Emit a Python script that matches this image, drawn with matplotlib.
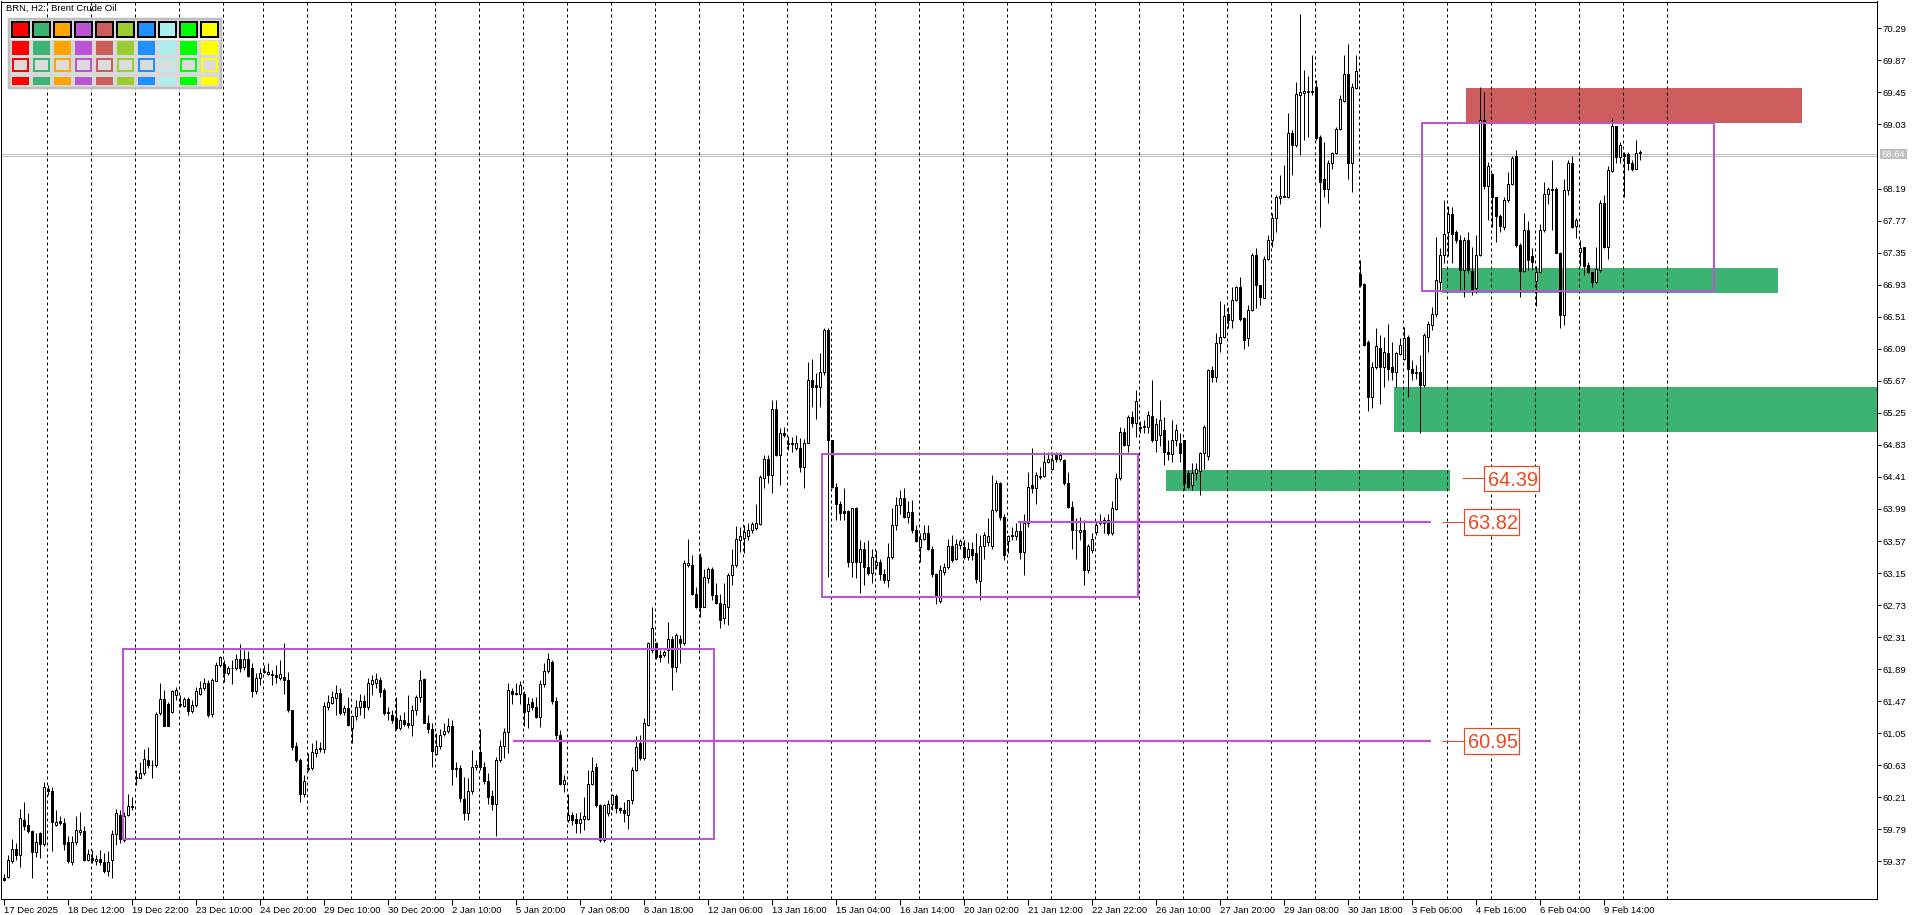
import matplotlib
matplotlib.use("Agg")
import matplotlib.pyplot as plt
from matplotlib.patches import Rectangle
import matplotlib.transforms as mtransforms
import numpy as np

plt.rcParams['font.family'] = ['Liberation Sans', 'DejaVu Sans']

# ---------------- data (BRN, H2) ----------------
opens = [
59.16, 59.17, 59.37, 59.54, 59.46, 59.92, 59.85, 59.77, 59.49, 59.75,
59.60, 60.32, 60.30, 59.85, 59.90, 59.88, 59.63, 59.36, 59.63, 59.76,
59.77, 59.39, 59.41, 59.37, 59.40, 59.36, 59.25, 59.39, 59.73, 59.98,
59.65, 59.98, 60.09, 60.46, 60.47, 60.53, 60.70, 60.64, 60.64, 61.31,
61.50, 61.44, 61.33, 61.55, 61.44, 61.41, 61.50, 61.34, 61.42, 61.57,
61.64, 61.71, 61.30, 61.74, 61.95, 61.96, 61.84, 61.91, 61.91, 62.03,
61.92, 62.03, 61.90, 61.60, 61.78, 61.87, 61.83, 61.83, 61.81, 61.77,
61.79, 61.75, 61.36, 60.88, 60.70, 60.26, 60.58, 60.59, 60.79, 60.84,
60.85, 61.40, 61.45, 61.51, 61.58, 61.33, 61.38, 61.12, 61.28, 61.40,
61.47, 61.40, 61.70, 61.71, 61.75, 61.62, 61.31, 61.29, 61.25, 61.12,
61.22, 61.18, 61.16, 61.36, 61.53, 61.76, 61.19, 61.11, 60.78, 60.88,
61.04, 61.08, 61.14, 60.58, 60.60, 60.19, 60.01, 60.29, 60.61, 60.81,
60.61, 60.42, 60.23, 60.13, 60.70, 60.88, 61.07, 61.60, 61.57, 61.57,
61.57, 61.34, 61.46, 61.40, 61.26, 61.70, 61.87, 61.98, 61.47, 61.03,
60.39, 59.91, 59.98, 59.93, 59.87, 59.93, 59.93, 60.39, 60.61, 60.11,
59.65, 60.00, 60.13, 60.23, 60.07, 60.05, 59.98, 60.18, 60.57, 60.92,
60.72, 61.16, 62.14, 62.23, 62.08, 62.08, 62.14, 62.28, 61.92, 62.29,
62.24, 63.26, 63.26, 62.88, 63.36, 62.71, 63.09, 63.21, 62.86, 62.76,
62.56, 62.70, 63.12, 63.26, 63.58, 63.61, 63.63, 63.71, 63.74, 63.79,
64.39, 64.65, 64.44, 65.30, 64.70, 64.98, 64.84, 64.86, 64.79, 64.79,
64.54, 64.86, 65.68, 65.62, 65.59, 65.78, 66.34, 64.89, 64.28, 64.06,
63.96, 63.96, 63.29, 64.00, 63.30, 63.46, 63.23, 63.15, 63.26, 63.29,
63.14, 63.06, 63.36, 63.78, 64.04, 64.14, 63.89, 63.95, 63.72, 63.49,
63.60, 63.67, 63.47, 63.14, 62.78, 63.17, 63.23, 63.51, 63.34, 63.52,
63.49, 63.36, 63.47, 63.41, 63.05, 63.50, 63.56, 63.50, 63.98, 64.33,
63.89, 63.57, 63.63, 63.64, 63.70, 63.43, 63.80, 64.30, 64.26, 64.41,
64.42, 64.61, 64.51, 64.70, 64.64, 64.63, 64.33, 64.02, 63.72, 63.69,
63.71, 63.19, 63.45, 63.69, 63.81, 63.80, 63.85, 63.67, 63.99, 64.39,
65.00, 64.83, 65.20, 65.12, 65.05, 65.06, 65.07, 65.21, 64.90, 64.96,
65.03, 64.74, 64.71, 64.90, 64.85, 64.89, 64.46, 64.30, 64.46, 64.49,
64.72, 64.68, 65.81, 65.72, 66.17, 66.24, 66.55, 66.47, 66.73, 66.90,
66.49, 66.23, 66.60, 67.32, 66.93, 66.76, 67.26, 67.52, 67.81, 68.06,
68.08, 68.08, 68.92, 68.76, 69.42, 69.44, 69.46, 69.47, 69.52, 68.87,
68.31, 68.19, 68.53, 68.66, 68.97, 69.34, 69.69, 68.53, 69.51, 67.07,
66.94, 66.18, 65.46, 65.85, 66.10, 65.85, 66.04, 65.85, 65.79, 66.02,
65.96, 66.24, 65.83, 65.77, 65.79, 65.61, 66.25, 66.40, 66.55, 66.97,
67.32, 67.62, 67.86, 67.62, 67.52, 67.12, 67.52, 67.11, 66.88, 67.32,
69.09, 68.22, 68.38, 68.08, 67.83, 67.69, 68.04, 68.25, 68.61, 67.45,
67.11, 67.64, 67.30, 66.98, 67.10, 67.65, 68.12, 68.18, 68.18, 67.35,
66.53, 68.17, 68.53, 67.70, 67.36, 67.42, 67.19, 67.09, 66.96, 67.12,
68.00, 67.42, 68.42, 69.01, 68.60, 68.64, 68.64, 68.53, 68.45, 68.67,
]
highs = [
59.20, 59.46, 59.66, 59.61, 60.06, 60.15, 60.00, 59.78, 59.74, 59.76,
60.41, 60.37, 60.35, 60.05, 59.96, 59.94, 59.70, 59.70, 59.96, 60.02,
59.83, 59.54, 59.52, 59.46, 59.52, 59.48, 59.51, 59.78, 60.06, 60.05,
60.02, 60.25, 60.22, 60.57, 60.67, 60.85, 60.87, 60.70, 61.33, 61.71,
61.62, 61.46, 61.62, 61.66, 61.55, 61.53, 61.53, 61.49, 61.66, 61.73,
61.77, 61.75, 61.77, 61.99, 62.06, 62.01, 61.93, 62.01, 62.09, 62.22,
62.14, 62.13, 61.97, 61.84, 61.90, 61.95, 61.97, 61.88, 61.95, 62.01,
62.23, 61.86, 61.36, 60.94, 60.72, 60.50, 60.79, 60.92, 60.96, 60.94,
61.46, 61.55, 61.60, 61.68, 61.65, 61.42, 61.53, 61.29, 61.49, 61.57,
61.55, 61.77, 61.81, 61.84, 61.79, 61.64, 61.40, 61.36, 61.53, 61.29,
61.33, 61.55, 61.42, 61.55, 61.88, 61.77, 61.29, 61.18, 61.05, 61.11,
61.18, 61.25, 61.22, 60.68, 60.64, 60.48, 60.46, 60.83, 60.70, 61.10,
60.68, 60.53, 60.31, 60.74, 60.96, 61.12, 61.71, 61.64, 61.71, 61.73,
61.60, 61.53, 61.51, 61.53, 61.75, 61.97, 62.10, 62.01, 61.53, 61.09,
60.50, 60.26, 60.02, 60.00, 60.02, 60.22, 60.57, 60.74, 60.66, 60.13,
60.13, 60.18, 60.26, 60.26, 60.09, 60.15, 60.18, 60.61, 61.01, 61.03,
61.25, 62.25, 62.71, 62.25, 62.14, 62.14, 62.51, 62.32, 62.36, 62.34,
63.32, 63.60, 63.39, 62.97, 63.41, 63.21, 63.23, 63.23, 63.02, 62.88,
63.02, 63.15, 63.47, 63.77, 63.76, 63.78, 63.80, 63.82, 64.06, 64.44,
64.70, 64.70, 65.42, 65.42, 65.05, 65.07, 64.95, 64.94, 64.96, 64.92,
64.91, 65.92, 65.96, 65.77, 66.03, 66.36, 66.36, 64.90, 64.33, 64.09,
64.26, 63.98, 64.00, 64.02, 63.58, 63.56, 63.59, 63.47, 63.45, 63.34,
63.21, 63.54, 64.00, 64.15, 64.24, 64.26, 64.09, 64.11, 63.78, 63.67,
63.78, 63.78, 63.50, 63.15, 63.26, 63.28, 63.60, 63.65, 63.60, 63.60,
63.58, 63.56, 63.56, 63.67, 63.65, 63.69, 63.87, 64.44, 64.37, 64.35,
63.93, 63.65, 63.76, 63.80, 63.82, 63.93, 64.48, 64.79, 64.48, 64.54,
64.74, 64.74, 64.74, 64.74, 64.74, 64.64, 64.48, 64.09, 63.87, 63.89,
63.85, 63.53, 63.67, 63.82, 63.93, 63.89, 63.93, 64.09, 64.46, 65.07,
65.05, 65.22, 65.27, 65.55, 65.14, 65.16, 65.27, 65.68, 65.18, 65.42,
65.20, 64.89, 65.16, 65.11, 64.98, 64.89, 64.50, 64.59, 64.59, 64.74,
65.09, 65.83, 65.86, 66.29, 66.71, 66.68, 66.64, 66.90, 66.91, 67.03,
66.51, 66.66, 67.34, 67.41, 66.93, 67.30, 67.58, 67.87, 68.10, 68.37,
68.50, 69.18, 68.96, 69.59, 70.48, 69.74, 69.67, 69.94, 69.61, 68.89,
68.80, 68.57, 68.67, 68.99, 69.42, 69.94, 70.09, 69.57, 69.94, 67.25,
66.95, 66.20, 65.92, 66.36, 66.27, 66.25, 66.42, 66.18, 66.05, 66.23,
66.38, 66.27, 65.94, 65.88, 66.01, 66.29, 66.45, 66.64, 67.56, 67.41,
68.04, 67.96, 67.95, 67.65, 67.58, 67.56, 67.62, 67.43, 67.58, 69.52,
69.46, 68.54, 68.39, 68.08, 67.86, 68.08, 68.41, 68.61, 68.69, 67.47,
67.87, 67.76, 67.41, 67.17, 67.73, 68.28, 68.21, 68.56, 68.21, 67.36,
68.32, 68.56, 68.61, 67.80, 67.52, 67.43, 67.23, 67.10, 67.43, 68.04,
68.10, 68.48, 69.11, 69.01, 68.80, 68.67, 68.67, 68.56, 68.83, 68.69,
]
lows = [
59.11, 59.15, 59.35, 59.39, 59.30, 59.78, 59.74, 59.16, 59.43, 59.41,
59.57, 60.24, 59.51, 59.83, 59.85, 59.52, 59.35, 59.33, 59.59, 59.72,
59.37, 59.37, 59.35, 59.32, 59.32, 59.22, 59.18, 59.15, 59.59, 59.61,
59.62, 59.96, 60.04, 60.37, 60.46, 60.50, 60.60, 60.46, 60.61, 61.29,
61.14, 61.14, 61.31, 61.49, 61.40, 61.39, 61.29, 61.31, 61.40, 61.55,
61.62, 61.26, 61.27, 61.73, 61.92, 61.72, 61.81, 61.69, 61.88, 61.86,
61.88, 61.79, 61.53, 61.57, 61.68, 61.84, 61.81, 61.68, 61.71, 61.75,
61.57, 61.33, 60.83, 60.68, 60.15, 60.22, 60.55, 60.57, 60.74, 60.81,
60.79, 61.36, 61.43, 61.29, 61.29, 61.29, 61.14, 60.92, 61.22, 61.29,
61.25, 61.36, 61.55, 61.64, 61.53, 61.29, 61.22, 61.18, 61.09, 61.09,
61.14, 61.12, 61.01, 61.29, 61.46, 61.18, 61.06, 60.61, 60.77, 60.85,
61.01, 61.05, 60.37, 60.48, 60.15, 59.91, 59.91, 60.26, 60.57, 60.57,
60.39, 60.13, 60.04, 59.70, 60.68, 60.72, 60.79, 61.44, 61.55, 61.44,
61.14, 61.12, 61.36, 61.25, 61.13, 61.66, 61.84, 61.44, 60.98, 60.37,
60.28, 59.89, 59.85, 59.74, 59.74, 59.78, 59.91, 60.37, 60.09, 59.63,
59.63, 59.96, 60.04, 60.00, 60.00, 59.89, 59.80, 60.13, 60.55, 60.70,
60.70, 61.14, 62.10, 62.03, 61.99, 62.05, 61.97, 61.62, 61.86, 61.97,
62.21, 63.23, 62.86, 62.69, 62.58, 62.71, 63.02, 62.80, 62.75, 62.43,
62.48, 62.47, 62.99, 63.23, 63.43, 63.41, 63.58, 63.67, 63.71, 63.78,
64.26, 64.33, 64.20, 64.68, 64.30, 64.94, 64.76, 64.74, 64.76, 64.48,
64.26, 64.85, 65.33, 65.17, 65.33, 65.75, 63.10, 64.26, 63.85, 63.85,
63.85, 63.23, 63.10, 63.08, 62.89, 62.99, 63.13, 63.02, 63.21, 63.06,
63.02, 62.97, 63.34, 63.71, 63.93, 63.87, 63.80, 63.67, 63.56, 63.30,
63.58, 63.45, 63.10, 62.75, 62.76, 63.13, 63.21, 63.30, 63.32, 63.47,
63.34, 63.32, 63.32, 63.02, 62.80, 63.34, 63.50, 63.47, 63.95, 63.85,
63.32, 63.41, 63.58, 63.58, 63.34, 63.13, 63.76, 64.20, 64.06, 64.38,
64.41, 64.59, 64.50, 64.61, 64.62, 64.30, 64.00, 63.47, 63.34, 63.58,
62.99, 63.15, 63.41, 63.65, 63.78, 63.67, 63.65, 63.65, 63.98, 64.37,
64.81, 64.74, 65.07, 64.94, 64.98, 64.98, 64.98, 64.87, 64.74, 64.81,
64.57, 64.63, 64.61, 64.81, 64.61, 64.24, 64.26, 64.24, 64.37, 64.17,
64.52, 64.63, 65.66, 65.66, 66.05, 66.23, 66.36, 66.36, 66.71, 66.45,
66.09, 66.12, 66.58, 66.62, 66.66, 66.75, 67.25, 67.43, 67.62, 67.99,
68.08, 68.06, 68.37, 68.74, 68.63, 68.83, 68.87, 69.42, 68.83, 67.69,
68.08, 68.00, 68.45, 68.64, 68.96, 69.33, 68.32, 68.15, 69.50, 66.90,
66.12, 65.27, 65.32, 65.83, 65.37, 65.59, 65.68, 65.68, 65.59, 66.01,
65.94, 65.46, 65.68, 65.70, 64.98, 65.59, 66.05, 66.34, 66.51, 66.86,
67.21, 67.30, 67.21, 67.47, 66.86, 66.77, 67.08, 66.79, 66.82, 67.30,
68.19, 67.78, 67.69, 67.49, 67.62, 67.65, 68.02, 68.24, 67.43, 66.77,
67.10, 67.12, 67.12, 66.65, 67.08, 67.62, 67.99, 67.65, 67.34, 66.36,
66.40, 68.10, 67.67, 67.54, 67.17, 67.06, 67.08, 66.90, 66.95, 67.10,
67.41, 67.27, 68.41, 68.53, 68.53, 68.08, 68.43, 68.42, 68.44, 68.57,
]
closes = [
59.13, 59.39, 59.54, 59.46, 59.94, 59.84, 59.77, 59.49, 59.62, 59.60,
60.35, 60.30, 59.89, 59.89, 59.88, 59.60, 59.37, 59.63, 59.78, 59.78,
59.39, 59.47, 59.39, 59.40, 59.36, 59.25, 59.36, 59.73, 60.01, 59.66,
59.97, 60.10, 60.10, 60.48, 60.53, 60.71, 60.64, 60.63, 61.30, 61.50,
61.15, 61.15, 61.60, 61.62, 61.42, 61.50, 61.34, 61.42, 61.60, 61.65,
61.71, 61.29, 61.75, 61.95, 62.05, 61.84, 61.91, 61.90, 62.03, 61.91,
62.02, 61.80, 61.60, 61.78, 61.84, 61.85, 61.86, 61.81, 61.79, 61.83,
61.75, 61.36, 60.87, 60.70, 60.26, 60.42, 60.60, 60.80, 60.84, 60.86,
61.41, 61.46, 61.52, 61.58, 61.32, 61.38, 61.16, 61.28, 61.39, 61.47,
61.40, 61.71, 61.75, 61.76, 61.59, 61.31, 61.33, 61.22, 61.12, 61.22,
61.17, 61.16, 61.36, 61.53, 61.75, 61.19, 61.10, 60.82, 60.88, 61.03,
61.08, 61.14, 60.58, 60.60, 60.20, 60.01, 60.29, 60.61, 60.64, 60.61,
60.42, 60.22, 60.13, 60.70, 60.88, 61.07, 61.62, 61.57, 61.58, 61.68,
61.33, 61.44, 61.40, 61.26, 61.70, 61.87, 62.02, 61.47, 61.03, 60.39,
60.44, 59.98, 59.91, 59.87, 59.93, 59.96, 60.39, 60.55, 60.11, 59.65,
60.11, 60.13, 60.24, 60.07, 60.04, 60.01, 60.18, 60.57, 60.87, 60.72,
61.18, 62.23, 62.43, 62.05, 62.05, 62.12, 62.28, 61.92, 62.34, 62.23,
63.28, 63.28, 62.88, 62.71, 62.71, 63.10, 63.21, 62.86, 62.76, 62.54,
62.75, 63.12, 63.26, 63.60, 63.63, 63.69, 63.72, 63.79, 63.80, 64.41,
64.65, 64.44, 65.30, 64.70, 64.98, 64.96, 64.86, 64.84, 64.86, 64.54,
64.86, 65.68, 65.59, 65.59, 65.78, 66.34, 64.89, 64.28, 64.06, 63.94,
63.94, 63.29, 64.00, 63.30, 63.46, 63.23, 63.15, 63.36, 63.30, 63.14,
63.06, 63.36, 63.78, 64.04, 64.13, 63.89, 63.95, 63.72, 63.57, 63.60,
63.68, 63.47, 63.14, 62.84, 63.19, 63.23, 63.51, 63.32, 63.53, 63.57,
63.36, 63.47, 63.39, 63.07, 63.50, 63.65, 63.63, 63.98, 64.33, 63.89,
63.39, 63.63, 63.65, 63.70, 63.43, 63.80, 64.28, 64.26, 64.44, 64.42,
64.61, 64.64, 64.63, 64.65, 64.70, 64.33, 64.02, 63.72, 63.71, 63.71,
63.19, 63.50, 63.60, 63.78, 63.82, 63.85, 63.67, 64.00, 64.39, 65.00,
64.83, 65.20, 65.12, 65.40, 65.07, 65.08, 65.22, 64.90, 65.10, 65.15,
64.74, 64.71, 64.90, 65.03, 64.72, 64.33, 64.28, 64.46, 64.52, 64.72,
65.07, 65.81, 65.72, 66.16, 66.24, 66.52, 66.47, 66.73, 66.90, 66.48,
66.21, 66.60, 67.32, 66.93, 66.77, 67.26, 67.52, 67.81, 68.08, 68.09,
68.09, 68.92, 68.76, 69.43, 69.46, 69.47, 69.47, 69.46, 68.85, 68.28,
68.19, 68.53, 68.66, 68.97, 69.36, 69.69, 68.52, 69.52, 69.73, 66.93,
66.14, 65.46, 65.85, 66.12, 65.85, 66.05, 65.82, 65.79, 66.03, 66.14,
66.23, 65.83, 65.77, 65.79, 65.61, 66.27, 66.42, 66.55, 66.99, 67.32,
67.60, 67.86, 67.60, 67.52, 67.12, 67.52, 67.12, 66.86, 67.32, 69.09,
68.22, 68.48, 68.08, 67.83, 67.70, 68.04, 68.25, 68.59, 67.45, 67.11,
67.65, 67.25, 67.23, 67.10, 67.65, 68.12, 68.18, 68.17, 67.35, 66.53,
68.17, 68.53, 67.69, 67.78, 67.41, 67.17, 67.09, 66.96, 67.13, 68.00,
67.43, 68.43, 69.01, 68.60, 68.76, 68.62, 68.53, 68.44, 68.66, 68.65,
]

# day separators (bar index of each new trading day)
sep_bars = [11, 22, 33, 44, 55, 65, 76, 87, 98, 108, 119, 130, 141, 152, 163,
            174, 185, 196, 207, 218, 229, 240, 251, 262, 273, 284, 295, 306,
            317, 328, 339, 350, 361, 372, 383, 394, 405, 416]

xtick_bars = list(range(0, 401, 16))
xtick_labels = ["17 Dec 2025", "18 Dec 12:00", "19 Dec 22:00", "23 Dec 10:00",
                "24 Dec 20:00", "29 Dec 10:00", "30 Dec 20:00", "2 Jan 10:00",
                "5 Jan 20:00", "7 Jan 08:00", "8 Jan 18:00", "12 Jan 06:00",
                "13 Jan 16:00", "15 Jan 04:00", "16 Jan 14:00", "20 Jan 02:00",
                "21 Jan 12:00", "22 Jan 22:00", "26 Jan 10:00", "27 Jan 20:00",
                "29 Jan 08:00", "30 Jan 18:00", "3 Feb 06:00", "4 Feb 16:00",
                "6 Feb 04:00", "9 Feb 14:00"]

ytick_values = [70.29, 69.87, 69.45, 69.03, 68.19, 67.77, 67.35, 66.93, 66.51,
                66.09, 65.67, 65.25, 64.83, 64.41, 63.99, 63.57, 63.15, 62.73,
                62.31, 61.89, 61.47, 61.05, 60.63, 60.21, 59.79, 59.37]

current_price = 68.64
bid_ask = [68.647, 68.621]

# zones: (bar_from, bar_to, price_low, price_high)
green_zones = [(290.7, 361.6, 64.23, 64.50),
               (347.6, 480.0, 65.00, 65.59),
               (359.7, 443.6, 66.82, 67.15)]
red_zones = [(365.6, 449.6, 69.05, 69.51)]
range_boxes = [(29.75, 177.65, 59.66, 62.16),
               (204.6, 283.7, 62.83, 64.71),
               (354.6, 427.6, 66.85, 69.05)]
level_lines = [(127.4, 356.8, 60.95), (253.7, 356.8, 63.82)]
# level labels: (price, leader_start_bar, box_left_bar)
level_labels = [(64.39, 364.6, 370.1), (63.82, 359.6, 365.1), (60.95, 359.6, 365.1)]

palette = ['#FF0000', '#3CB371', '#FFA500', '#BA55D3', '#CD5C5C',
           '#9ACD32', '#1E90FF', '#AFEEEE', '#00FF00', '#FFFF00']

PURPLE = '#BA55D3'
GREEN = '#3CB371'
RED = '#CD5C5C'
OR = '#EE4720'

# ---------------- figure ----------------
W, H, DPI = 1920, 915, 100
PX = 72.0 / DPI
fig = plt.figure(figsize=(W / DPI, H / DPI), dpi=DPI, facecolor='white')
L, R, T, B = 1, 1877, 1.5, 899
ax = fig.add_axes([L / W, (H - B) / H, (R - L) / W, (B - T) / H])
ax.set_facecolor('white')

x0px, barpx = 3.5, 4.0
ax.set_xlim((L - x0px) / barpx, (R - x0px) / barpx)
pref, ppx = 70.29, 76.3
yref_px = 28.3
ax.set_ylim(pref - (B - yref_px) / ppx, pref + (yref_px - T) / ppx)

o = np.array(opens); h = np.array(highs); l = np.array(lows); c = np.array(closes)
idx = np.arange(len(o))

# zones
for x1, x2, p1, p2 in green_zones:
    ax.add_patch(Rectangle((x1, p1), x2 - x1, p2 - p1, facecolor=GREEN, edgecolor='none', zorder=1))
for x1, x2, p1, p2 in red_zones:
    ax.add_patch(Rectangle((x1, p1), x2 - x1, p2 - p1, facecolor=RED, edgecolor='none', zorder=1))

# bid / ask lines
for p in bid_ask:
    ax.axhline(p, color='#C0C0C0', lw=1 * PX, zorder=1.6)

# day separators
for s in sep_bars:
    ax.axvline(s - 0.15, color='black', lw=1 * PX, ls=(0, (3, 3)), zorder=1.8)

# candles
ax.vlines(idx, l, h, color='black', lw=1 * PX, zorder=3)
up = c >= o
bot = np.minimum(o, c)
hgt = np.abs(c - o)
ax.bar(idx[up], hgt[up], width=0.5, bottom=bot[up], facecolor='white',
       edgecolor='black', linewidth=1 * PX, zorder=3.5)
ax.bar(idx[~up], hgt[~up], width=0.5, bottom=bot[~up], facecolor='black',
       edgecolor='black', linewidth=1 * PX, zorder=3.5)

# range boxes and level lines
for x1, x2, p1, p2 in range_boxes:
    ax.add_patch(Rectangle((x1, p1), x2 - x1, p2 - p1, facecolor='none',
                           edgecolor=PURPLE, linewidth=2 * PX, zorder=5))
for x1, x2, p in level_lines:
    ax.hlines(p, x1, x2, color=PURPLE, lw=2.2 * PX, zorder=5)

# level labels
box_w = 55 / barpx
box_h = 25.5 / ppx
for p, xs, xb in level_labels:
    ax.hlines(p, xs, xb, color=OR, lw=1 * PX, zorder=6)
    ax.add_patch(Rectangle((xb, p - box_h / 2), box_w, box_h, facecolor='white',
                           edgecolor=OR, linewidth=1.2 * PX, zorder=6))
    ax.text(xb + 4.5 / barpx, p, f"{p:.2f}", color=OR, fontsize=14.4,
            va='center_baseline', ha='left', zorder=7)

# axes styling
for sp in ax.spines.values():
    sp.set_linewidth(1 * PX)
    sp.set_color('black')
ax.yaxis.tick_right()
ax.set_yticks(ytick_values)
ax.set_yticklabels([f"{v:.2f}" for v in ytick_values])
ax.tick_params(axis='y', which='both', left=False, right=True, labelleft=False,
               labelright=True, direction='out', length=4 * PX, width=1 * PX,
               pad=1.5 * PX, labelsize=6.8, colors='black')
ax.set_xticks(xtick_bars)
ax.set_xticklabels(xtick_labels)
ax.tick_params(axis='x', direction='out', length=6 * PX, width=1 * PX,
               pad=1 * PX, labelsize=6.8, colors='black')
for lab in ax.get_xticklabels():
    lab.set_ha('left')

# current price tag on the price scale
bt = mtransforms.blended_transform_factory(ax.transAxes, ax.transData)
tag_x = (1880 - L) / (R - L)
tag_w = 27 / (R - L)
tag_h = 10 / ppx
ax.add_patch(Rectangle((tag_x, current_price - tag_h / 2), tag_w, tag_h, transform=bt,
                       facecolor='#C0C0C0', edgecolor='none', clip_on=False, zorder=8))
ax.text(tag_x + tag_w / 2, current_price, f"{current_price:.2f}", transform=bt,
        color='white', fontsize=6.8, ha='center', va='center', clip_on=False, zorder=9)

# ---------------- overlay: header + colour palette ----------------
ov = fig.add_axes([0, 0, 1, 1], zorder=10)
ov.set_xlim(0, W)
ov.set_ylim(H, 0)
ov.axis('off')
ov.patch.set_alpha(0)
ov.text(6.5, 8.5, "BRN, H2:  Brent Crude Oil", fontsize=6.8, va='center', ha='left', color='black')
ov.add_patch(Rectangle((9, 18.5), 211.5, 69, facecolor='#D9D9D9', edgecolor='#BEBEBE', linewidth=2.5 * PX))
ov.plot([10.5, 219.5], [38.6, 38.6], color='white', lw=1.5 * PX)
for k, col in enumerate(palette):
    x = 12.3 + 21.0 * k
    ov.add_patch(Rectangle((x, 22), 16.2, 14.5, facecolor=col, edgecolor='black', linewidth=2 * PX))
    ov.add_patch(Rectangle((x - 0.3, 40.7), 17, 14.3, facecolor=col, edgecolor='none'))
    ov.add_patch(Rectangle((x + 0.7, 59.2), 15.2, 12.2, facecolor='#DCDCDC', edgecolor=col, linewidth=2 * PX))
    ov.add_patch(Rectangle((x - 0.3, 76.7), 17, 8.3, facecolor=col, edgecolor='none'))

fig.savefig("out.png", dpi=DPI, facecolor='white')
